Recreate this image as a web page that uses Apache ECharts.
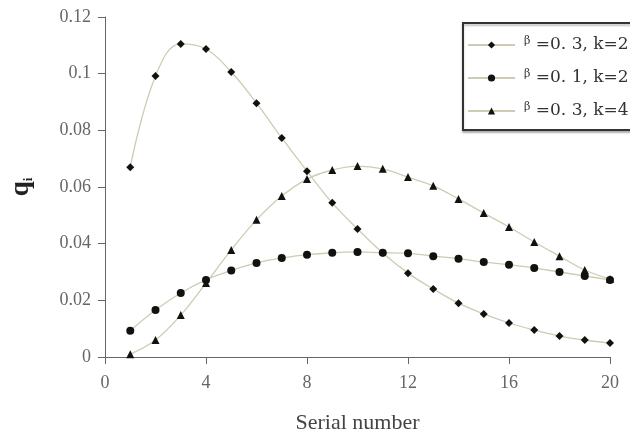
<!DOCTYPE html>
<html>
<head>
<meta charset="utf-8">
<script src="https://cdn.jsdelivr.net/npm/echarts@6/dist/echarts.min.js"></script>
<style>
  html, body { margin: 0; padding: 0; background: #fff; }
  #chart { width: 630px; height: 437px; }
</style>
</head>
<body>
<div id="chart"></div>
<script>
// serial numbers 1..20
var serial = [1, 2, 3, 4, 5, 6, 7, 8, 9, 10, 11, 12, 13, 14, 15, 16, 17, 18, 19, 20];
// beta=0.3, k=2
var b03k2 = [0.067, 0.0992, 0.1105, 0.1087, 0.1006, 0.0896, 0.0773, 0.0656, 0.0544, 0.0452,
             0.0367, 0.0296, 0.024, 0.019, 0.0152, 0.012, 0.0095, 0.0074, 0.006, 0.0049];
// beta=0.1, k=2
var b01k2 = [0.0093, 0.0166, 0.0226, 0.0272, 0.0305, 0.0332, 0.0349, 0.0361, 0.0368, 0.0371,
             0.0368, 0.0366, 0.0356, 0.0347, 0.0335, 0.0326, 0.0314, 0.030, 0.0286, 0.0272];
// beta=0.3, k=4
var b03k4 = [0.001, 0.006, 0.0148, 0.0261, 0.0378, 0.0484, 0.0568, 0.0628, 0.066, 0.0674,
             0.0664, 0.0635, 0.0604, 0.0558, 0.0508, 0.0459, 0.0406, 0.0356, 0.0307, 0.0275];
var names = ['\u03b2 =0. 3, k=2', '\u03b2 =0. 1, k=2', '\u03b2 =0. 3, k=4'];

function pairs(ys) {
    return serial.map(function (x, i) { return [x, ys[i]]; });
}

var lineColor = '#cfcbb2';
var mkSeries = function (name, ys, symbol, size) {
    return {
        name: name,
        type: 'line',
        smooth: 0.4,
        data: pairs(ys),
        symbol: symbol,
        symbolSize: size,
        showAllSymbol: true,
        lineStyle: { color: lineColor, width: 1.3 },
        itemStyle: { color: '#111' },
        emphasis: { disabled: true }
    };
};

var myChart = echarts.init(document.getElementById('chart'));
var option = {
    animation: false,
    textStyle: { fontFamily: 'Liberation Serif' },
    grid: { left: 105, right: 20, top: 17, bottom: 80, containLabel: false, outerBoundsMode: 'none' },
    legend: {
        orient: 'vertical',
        left: 463,
        top: 23,
        padding: [13, 60, 10, 4],
        itemGap: 15,
        itemWidth: 47,
        itemHeight: 9,
        borderColor: '#333',
        borderWidth: 2,
        backgroundColor: '#fff',
        shadowColor: 'rgba(0,0,0,0.25)',
        shadowOffsetY: 2,
        shadowBlur: 2,
        formatter: function (n) {
            return '{b|\u03b2} ' + n.slice(2);
        },
        textStyle: {
            fontFamily: 'DejaVu Serif', fontSize: 17, color: '#333', lineHeight: 18,
            padding: [0, 0, 0, 4],
            rich: {
                b: { fontFamily: 'DejaVu Serif', fontSize: 11, color: '#333', verticalAlign: 'top', padding: [0, 0, 6, 0] }
            }
        },
        data: names
    },
    xAxis: {
        type: 'value',
        min: 0,
        max: 20,
        interval: 4,
        name: 'Serial number',
        nameLocation: 'middle',
        nameGap: 55,
        nameTextStyle: { fontFamily: 'Liberation Serif', fontSize: 22, color: '#444' },
        axisLine: { lineStyle: { color: '#666', width: 1 } },
        axisTick: { show: true, length: 7, lineStyle: { color: '#666' } },
        axisLabel: { fontFamily: 'Liberation Serif', fontSize: 18, color: '#666', margin: 17 },
        splitLine: { show: false }
    },
    yAxis: {
        type: 'value',
        min: 0,
        max: 0.12,
        interval: 0.02,
        name: '{q|q}{i|i}',
        nameLocation: 'middle',
        nameGap: 70,
        nameRotate: 90,
        nameTextStyle: {
            rich: {
                q: { fontFamily: 'Liberation Serif', fontSize: 27, fontWeight: 'bold', color: '#222' },
                i: { fontFamily: 'Liberation Serif', fontSize: 13, fontWeight: 'bold', color: '#222', verticalAlign: 'bottom', padding: [8, 0, 0, 0] }
            }
        },
        axisLine: { show: true, lineStyle: { color: '#666', width: 1 } },
        axisTick: { show: true, length: 7, lineStyle: { color: '#666' } },
        axisLabel: { fontFamily: 'Liberation Serif', fontSize: 18, color: '#666', margin: 14 },
        splitLine: { show: false }
    },
    series: [
        mkSeries(names[0], b03k2, 'diamond', 8),
        mkSeries(names[1], b01k2, 'circle', 8),
        mkSeries(names[2], b03k4, 'triangle', 8)
    ]
};
myChart.setOption(option);
window.onresize = myChart.resize;
</script>
</body>
</html>
